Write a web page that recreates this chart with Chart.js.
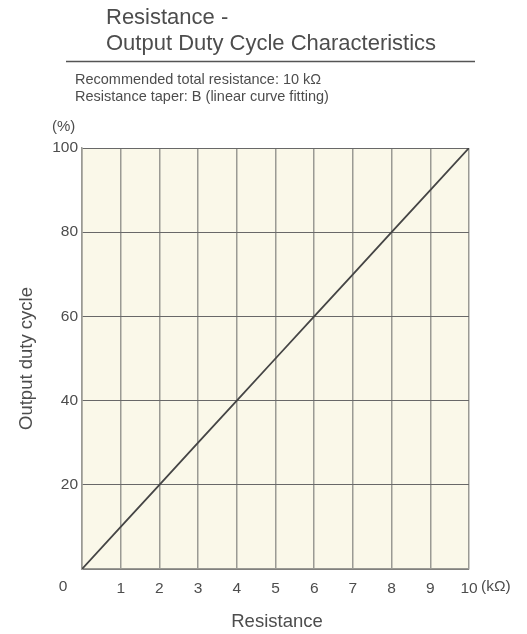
<!DOCTYPE html>
<html><head><meta charset="utf-8">
<script src="https://cdn.jsdelivr.net/npm/chart.js@4/dist/chart.umd.min.js"></script>
<style>html,body{margin:0;padding:0;background:#fff}#wrap{width:527px;height:634px;position:relative}</style>
</head><body><div id="wrap"><canvas id="c" width="527" height="634"></canvas></div>
<script>
const resistance = [0, 1, 2, 3, 4, 5, 6, 7, 8, 9, 10];
const dutyCycle = [0, 10, 20, 30, 40, 50, 60, 70, 80, 90, 100];
const titleLines = ["Resistance -", "Output Duty Cycle Characteristics"];
const noteLines = ["Recommended total resistance: 10 k\u03A9", "Resistance taper: B (linear curve fitting)"];
const xTitle = "Resistance";
const yTitle = "Output duty cycle";
const xUnit = "(k\u03A9)";
const yUnit = "(%)";

const FONT = "'Liberation Sans', Arial, sans-serif";
const TXT = "#4d4d4d";

const deco = {
  id: 'deco',
  beforeDraw(chart) {
    const {ctx, chartArea: a} = chart;
    ctx.save();
    ctx.fillStyle = '#faf8e9';
    ctx.fillRect(a.left, a.top, a.right - a.left, a.bottom - a.top);
    ctx.restore();
  },
  afterDraw(chart) {
    const {ctx, chartArea: a, scales} = chart;
    ctx.save();
    ctx.fillStyle = TXT;
    ctx.textBaseline = 'middle';
    ctx.textAlign = 'left';
    ctx.font = "22px " + FONT;
    ctx.fillText(titleLines[0], 106, 18);
    ctx.fillText(titleLines[1], 106, 44);
    ctx.strokeStyle = '#555';
    ctx.lineWidth = 1.5;
    ctx.beginPath(); ctx.moveTo(66, 61.5); ctx.lineTo(475, 61.5); ctx.stroke();
    ctx.font = "14.5px " + FONT;
    ctx.fillText(noteLines[0], 75, 80);
    ctx.fillText(noteLines[1], 75, 97);
    ctx.font = "15px " + FONT;
    ctx.fillText(yUnit, 52, 127);
    ctx.font = "15.5px " + FONT;
    ctx.fillText(xUnit, scales.x.getPixelForValue(10) + 12, 587);
    ctx.textAlign = 'center';
    ctx.fillText("0", 63, 587);
    ctx.font = "18.5px " + FONT;
    ctx.fillText(xTitle, 277, 622);
    ctx.translate(27, (a.top + a.bottom) / 2);
    ctx.rotate(-Math.PI / 2);
    ctx.fillText(yTitle, 0, 0);
    ctx.restore();
  }
};

new Chart(document.getElementById('c'), {
  type: 'scatter',
  data: {
    datasets: [{
      data: resistance.map((r, i) => ({x: r, y: dutyCycle[i]})),
      showLine: true,
      borderColor: '#454545',
      borderWidth: 1.8,
      pointRadius: 0,
      fill: false
    }]
  },
  options: {
    responsive: false,
    animation: false,
    devicePixelRatio: 1,
    layout: {padding: {top: 148, right: 58, left: 0, bottom: 0}},
    plugins: {legend: {display: false}, tooltip: {enabled: false}},
    scales: {
      x: {
        type: 'linear', min: 0, max: 10,
        afterFit(s) { s.height = 65; },
        grid: {color: '#9a9a94', lineWidth: 1.5, drawTicks: false},
        border: {color: '#9a9a94', width: 1.5},
        ticks: {stepSize: 1, padding: 10, color: TXT, font: {size: 15.5, family: FONT},
          callback: v => v === 0 ? '' : String(v), maxRotation: 0, autoSkip: false}
      },
      y: {
        type: 'linear', min: 0, max: 100,
        afterFit(s) { s.width = 82; },
        grid: {color: '#686868', lineWidth: 1, drawTicks: false},
        border: {color: '#9a9a94', width: 1.5},
        ticks: {stepSize: 20, padding: 4, color: TXT, font: {size: 15.5, family: FONT},
          callback: v => v === 0 ? '' : String(v)}
      }
    }
  },
  plugins: [deco]
});
</script></body></html>
